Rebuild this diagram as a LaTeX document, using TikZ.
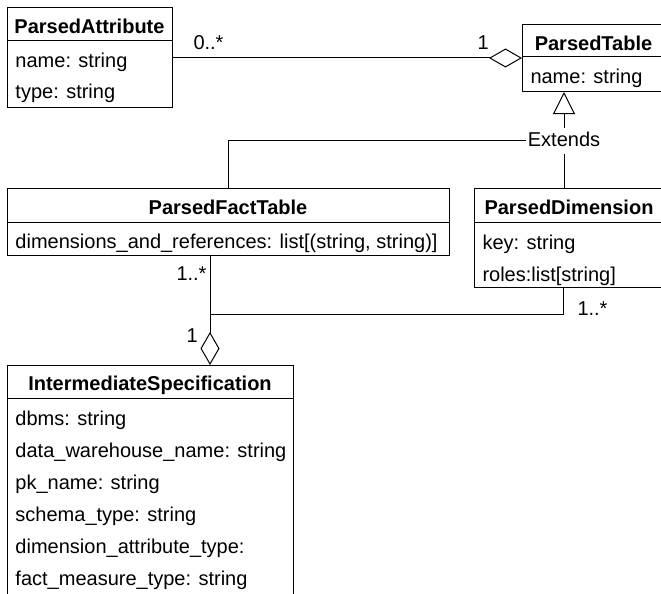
\documentclass[tikz,border=0pt]{standalone}
\usepackage{fontspec}
\setmainfont{Liberation Sans}
\usetikzlibrary{arrows.meta}
\begin{document}
\begin{tikzpicture}[x=1pt,y=-1pt,
  line width=1pt,
  txt/.style={font=\fontsize{20}{24}\selectfont, inner sep=0pt},
  head/.style={txt, font=\fontsize{20}{24}\selectfont\bfseries, anchor=base},
  attr/.style={txt, anchor=base west},
  mult/.style={txt, anchor=base west},
  umlclass/.style={draw, inner sep=0pt, anchor=north west},
  aggr/.style={-{Diamond[open, length=33pt, width=19pt]}},
  gen/.style={-{Triangle[open, length=22pt, width=22pt]}}]

\fill[white] (0,0) rectangle (661,594);
\useasboundingbox (0,0) rectangle (661,594);
\clip (0,0) rectangle (661,594);

% ParsedAttribute
\node[umlclass, minimum width=165pt, minimum height=100pt] (pa) at (7,7) {};
\draw (7,41) -- (172,41);
\node[head] (pa-t) at (89.5,34) {ParsedAttribute};
\node[attr] (pa-1) at (15,67) {name: string};
\node[attr] (pa-2) at (15,99) {type: string};

% ParsedTable
\node[umlclass, minimum width=143pt, minimum height=67pt] (pt) at (522,24) {};
\draw (522,57) -- (665,57);
\node[head] (pt-t) at (593.5,51) {ParsedTable};
\node[attr] (pt-1) at (530,83) {name: string};

% ParsedFactTable
\node[umlclass, minimum width=442pt, minimum height=67pt] (pft) at (7,188) {};
\draw (7,222) -- (449,222);
\node[head] (pft-t) at (228,214) {ParsedFactTable};
\node[attr] (pft-1) at (15,248) {dimensions\_and\_references: list[(string, string)]};

% ParsedDimension
\node[umlclass, minimum width=190pt, minimum height=99pt] (pd) at (474,188) {};
\draw (474,222) -- (664,222);
\node[head] (pd-t) at (569,214) {ParsedDimension};
\node[attr] (pd-1) at (482,249) {key: string};
\node[attr] (pd-2) at (482,281) {roles:list[string]};

% IntermediateSpecification
\node[umlclass, minimum width=286pt, minimum height=245pt] (is) at (7,365) {};
\draw (7,398) -- (293,398);
\node[head] (is-t) at (150,390) {IntermediateSpecification};
\node[attr] (is-1) at (15,425) {dbms: string};
\node[attr] (is-2) at (15,457) {data\_warehouse\_name: string};
\node[attr] (is-3) at (15,489) {pk\_name: string};
\node[attr] (is-4) at (15,521) {schema\_type: string};
\node[attr] (is-5) at (15,553) {dimension\_attribute\_type:};
\node[attr] (is-6) at (15,585) {fact\_measure\_type: string};

% aggregation ParsedAttribute -> ParsedTable
\draw[aggr] (pa.east |- pt.west) -- (pt.west);
\node[mult] (m1) at (193,49) {0..*};
\node[mult] (m2) at (477,50) {1};

% generalisation with shared "Extends" label
\node[txt, anchor=base, fill=white, inner xsep=1pt, inner ysep=3.5pt,
      text height=14.5pt, text depth=4pt] (ext) at (564,146) {Extends};
\draw (pft.north) |- (ext.west);
\draw (ext |- pd.north) -- (ext.south);
\draw[gen] (ext.north) -- (ext |- pt.south);

% aggregation of fact and dimension tables into the specification
\coordinate (j) at (210,314);
\coordinate (k) at (563,314);
\draw (j |- pft.south) -- (j);
\draw (k |- pd.south) -- (k) -- (j);
\draw[aggr] (j) -- (j |- is.north);
\node[mult] (m3) at (176,280) {1..*};
\node[mult] (m4) at (186,342) {1};
\node[mult] (m5) at (577,315) {1..*};
\end{tikzpicture}
\end{document}
